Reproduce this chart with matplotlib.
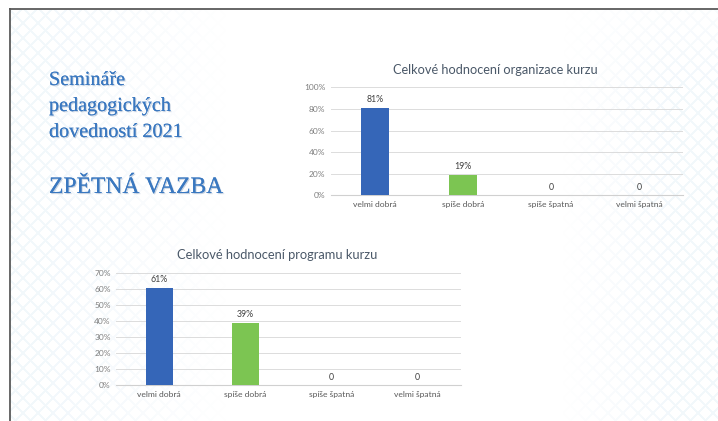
import numpy as np
import matplotlib
matplotlib.use("Agg")
import matplotlib.pyplot as plt
import matplotlib.patheffects as pe

# ---- data ----
categories = ["velmi dobrá", "spíše dobrá", "spíše špatná", "velmi špatná"]
org_values = [81, 19, 0, 0]
org_labels = ["81%", "19%", "0", "0"]
prog_values = [61, 39, 0, 0]
prog_labels = ["61%", "39%", "0", "0"]
org_ticks = [0, 20, 40, 60, 80, 100]
prog_ticks = [0, 10, 20, 30, 40, 50, 60, 70]
org_title = "Celkové hodnocení organizace kurzu"
prog_title = "Celkové hodnocení programu kurzu"
slide_lines = ["Semináře", "pedagogických", "dovedností 2021"]
slide_head = "ZPĚTNÁ VAZBA"

bar_colors = ["#3566b8", "#7cc552", "#3566b8", "#3566b8"]
W, H = 718, 421
fig = plt.figure(figsize=(W / 100, H / 100), dpi=100)
fig.patch.set_facecolor("white")

# ---- background decoration (faint diamond lattice) ----
bg = fig.add_axes([0, 0, 1, 1], zorder=-5)
yy, xx = np.mgrid[0:H, 0:W]
per = 15
d1 = np.abs(((xx + yy) % per) - per / 2)
d2 = np.abs(((xx - yy) % per) - per / 2)
lat = ((d1 > per / 2 - 1.2) | (d2 > per / 2 - 1.2)).astype(float)
wgt = np.clip((230 - xx) / 180, 0, 1) + np.clip((xx - 560) / 110, 0, 1) * np.clip((yy + 40) / 120, 0, 1)
wgt = np.clip(wgt, 0, 1)
img = np.ones((H, W, 4))
img[..., 0] = 0.72
img[..., 1] = 0.84
img[..., 2] = 0.93
img[..., 3] = 0.17 * lat * wgt
bg.imshow(img, extent=(0, W, H, 0), aspect="auto", interpolation="bilinear")
bg.set_xlim(0, W)
bg.set_ylim(H, 0)
bg.axis("off")
# slide frame lines
bg.fill_between([0, W], 0, 8, color="white", zorder=3)
bg.fill_betweenx([0, H], 0, 9, color="white", zorder=3)
bg.plot([9, W], [8.5, 8.5], color="#5a5a5a", lw=1.3, zorder=4, solid_capstyle="butt")
bg.plot([9.5, 9.5], [8, H], color="#5a5a5a", lw=1.3, zorder=4, solid_capstyle="butt")

FONT = ["Lato", "DejaVu Sans"]
TXT = "#7f7f7f"


def draw_chart(rect, values, labels, ticks, title, title_xy, title_size):
    ax = fig.add_axes(rect)
    ax.patch.set_alpha(0)
    x = np.arange(len(categories))
    ax.bar(x, values, width=0.31, color=bar_colors, zorder=3)
    for xi, v, lab in zip(x, values, labels):
        ax.annotate(lab, (xi, v), xytext=(0, 2.5), textcoords="offset points",
                    ha="center", va="bottom", fontsize=6.3, color="#404040", family=FONT)
    ax.set_xlim(-0.5, len(categories) - 0.5)
    ax.set_ylim(0, ticks[-1])
    ax.set_yticks(ticks)
    ax.set_yticklabels([f"{t}%" for t in ticks], fontsize=6, color=TXT, family=FONT)
    ax.set_xticks(x)
    ax.set_xticklabels(categories, fontsize=6.1, color="#595959", family=FONT)
    ax.tick_params(length=0, pad=4)
    ax.grid(axis="y", color="#dcdcdc", lw=0.7, zorder=0)
    for s in ["top", "right", "left"]:
        ax.spines[s].set_visible(False)
    ax.spines["bottom"].set_color("#d0d0d0")
    ax.spines["bottom"].set_linewidth(0.8)
    fig.text(title_xy[0] / W, 1 - title_xy[1] / H, title, ha="center", va="center",
             fontsize=title_size, color="#4a5868", family=FONT)
    return ax


draw_chart([331 / W, 1 - 195.3 / H, 352 / W, (195.3 - 87.3) / H],
           org_values, org_labels, org_ticks, org_title, (495, 70), 9.2)
draw_chart([116.3 / W, 1 - 385.3 / H, 344.4 / W, (385.3 - 273.3) / H],
           prog_values, prog_labels, prog_ticks, prog_title, (277, 255), 9.3)

shadow = [pe.withSimplePatchShadow(offset=(0.8, -0.8), shadow_rgbFace="#9fb3cc", alpha=0.6), pe.Normal()]
for i, line in enumerate(slide_lines):
    fig.text(49 / W, 1 - (85 + 26 * i) / H, line, ha="left", va="baseline",
             fontsize=14.5, color="#3a78c0", family=["Liberation Serif", "DejaVu Serif"],
             path_effects=shadow)
fig.text(49 / W, 1 - 193 / H, slide_head, ha="left", va="baseline",
         fontsize=17, color="#3a78c0", family=["Liberation Serif", "DejaVu Serif"],
         path_effects=shadow)

fig.savefig("out.png", dpi=100)
